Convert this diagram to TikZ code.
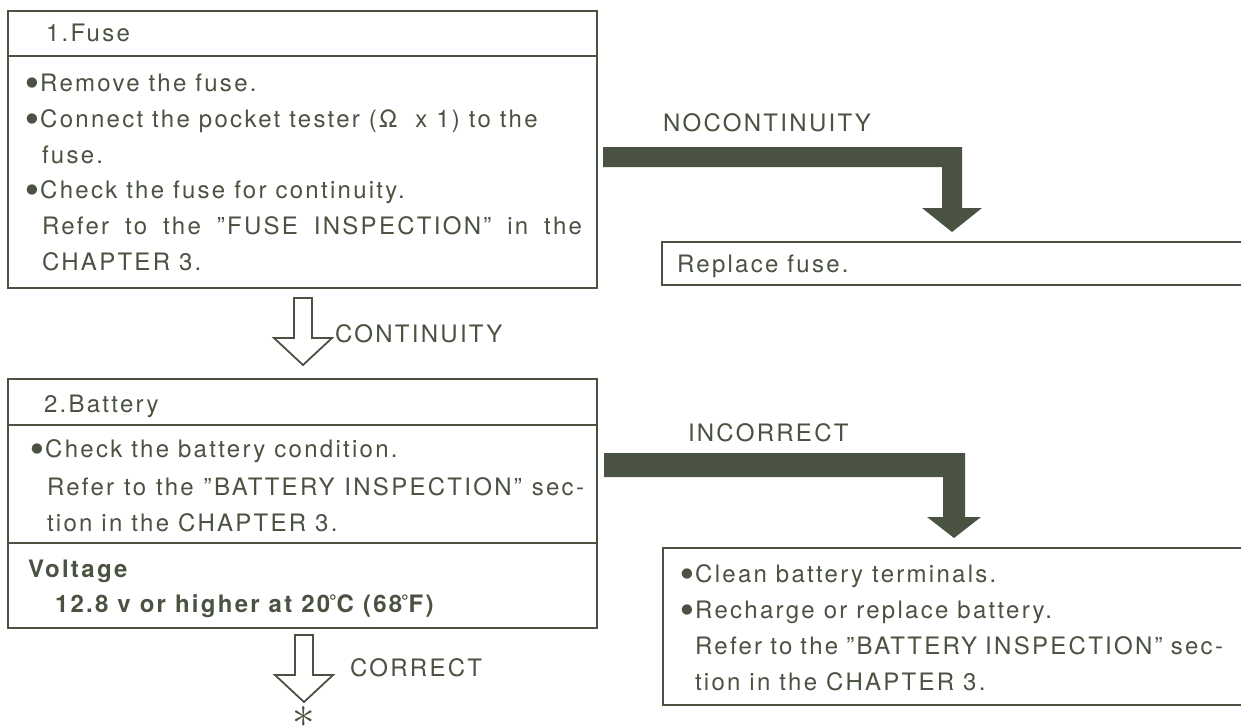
\documentclass[tikz,border=0pt]{standalone}
\usepackage{fontspec}
\setmainfont{TeX Gyre Heros}
\newfontfamily\hv[LetterSpace=9.5]{TeX Gyre Heros}
\newfontfamily\djv{DejaVu Sans}
\usetikzlibrary{calc}
\definecolor{ink}{RGB}{74,82,66}
\newcommand{\bul}{{\djv\fontsize{13.5}{14}\selectfont\raisebox{0.32em}{●}}\kern0.1em}
\newcommand{\dg}{\raisebox{0.15em}{\kern-0.05em\scalebox{0.8}{°}}}
\tikzset{
  txt/.style={anchor=base west, inner sep=0pt, outer sep=0pt, text=ink, font=\hv\fontsize{24}{28}\selectfont},
  boldtxt/.style={txt, font=\hv\bfseries\fontsize{24}{28}\selectfont},
  frame/.style={draw=ink, line width=2.2pt, rectangle, anchor=north west, inner sep=0pt},
  openframe/.style={draw=ink, line width=2.2pt},
  divider/.style={draw=ink, line width=1.6pt},
  thickarrow/.style={fill=ink, draw=none},
  hollowarrow/.style={draw=ink, line width=1.8pt, fill=white, line join=miter},
}
\begin{document}
\begin{tikzpicture}[x=1pt, y=-1pt]
\useasboundingbox[fill=white] (0,0) rectangle (1241,726);

% ---------- Box 1: Fuse ----------
\node[frame, minimum width=589pt, minimum height=277pt] (fuse) at (7,10) {};
\draw[divider] (7,56) -- (596,56);
\node[txt] (f0) at (46,41) {1.Fuse};
\node[txt] (f1) at (26,91) {\bul Remove the fuse.};
\node[txt] (f2) at (26,127) {\bul Connect the pocket tester (Ω\ \ x 1) to the};
\node[txt] (f3) at (42,163) {fuse.};
\node[txt] (f4) at (26,198) {\bul Check the fuse for continuity.};
\node[txt] (f5) at (42,234) {\makebox[540pt][s]{Refer to the ”FUSE INSPECTION” in the}};
\node[txt] (f6) at (42,270) {CHAPTER 3.};

% ---------- Replace fuse box ----------
\coordinate (rep) at (662,242);
\draw[openframe] (1241,242) -| (662,285) -- (1241,285);
\node[txt] (r1) at (677,272) {Replace fuse.};

% ---------- NOCONTINUITY arrow ----------
\node[txt] (lnc) at (663,131) {NOCONTINUITY};
\coordinate (nctip) at (952,232);
\fill[thickarrow] ([xshift=5pt]fuse.east |- 0,147) -- (962,147) -- (962,208) -- (982,208)
   -- (nctip) -- (922,208) -- (942,208) -- (942,167) -- ([xshift=5pt]fuse.east |- 0,167) -- cycle;

% ---------- CONTINUITY arrow ----------
\draw[hollowarrow] (294,298) -- (312,298) -- (312,338) -- (332,338) -- (303,365)
   -- (274,338) -- (294,338) -- cycle;
\node[txt] (lc) at (335,342) {CONTINUITY};

% ---------- Box 2: Battery ----------
\node[frame, minimum width=589pt, minimum height=249pt] (batt) at (7,378) {};
\draw[divider] (7,425) -- (596,425);
\draw[divider] (7,543) -- (596,543);
\node[txt] (b0) at (44,412) {2.Battery};
\node[txt] (b1) at (31,457) {\bul Check the battery condition.};
\node[txt] (b2) at (47,495) {\makebox[537pt][s]{Refer to the ”BATTERY INSPECTION” sec-}};
\node[txt] (b3) at (47,531) {tion in the CHAPTER 3.};
\node[boldtxt] (b4) at (28,577) {Voltage};
\node[boldtxt] (b5) at (55,612) {12.8 v or higher at 20\dg C (68\dg F)};

% ---------- INCORRECT arrow ----------
\node[txt] (lin) at (688,441) {INCORRECT};
\coordinate (intip) at (954,538);
\fill[thickarrow] ([xshift=6pt]batt.east |- 0,453) -- (965,453) -- (965,517) -- (981,517)
   -- (intip) -- (927,517) -- (943,517) -- (943,477) -- ([xshift=6pt]batt.east |- 0,477) -- cycle;

% ---------- Box 3: battery remedy ----------
\coordinate (rem) at (663,548);
\draw[openframe] (1241,548) -| (663,705) -- (1241,705);
\node[txt] (c1) at (681,582) {\bul Clean battery terminals.};
\node[txt] (c2) at (681,618) {\bul Recharge or replace battery.};
\node[txt] (c3) at (695,654) {\makebox[528pt][s]{Refer to the ”BATTERY INSPECTION” sec-}};
\node[txt] (c4) at (695,690) {tion in the CHAPTER 3.};

% ---------- CORRECT arrow ----------
\draw[hollowarrow] (295,635) -- (313,635) -- (313,675) -- (333,675) -- (304,702)
   -- (275,675) -- (295,675) -- cycle;
\node[txt] (lco) at (350,676) {CORRECT};
\node[text=ink, inner sep=0pt] (star) at (304,717) {\scalebox{4.5}{$\ast$}};
\end{tikzpicture}
\end{document}
